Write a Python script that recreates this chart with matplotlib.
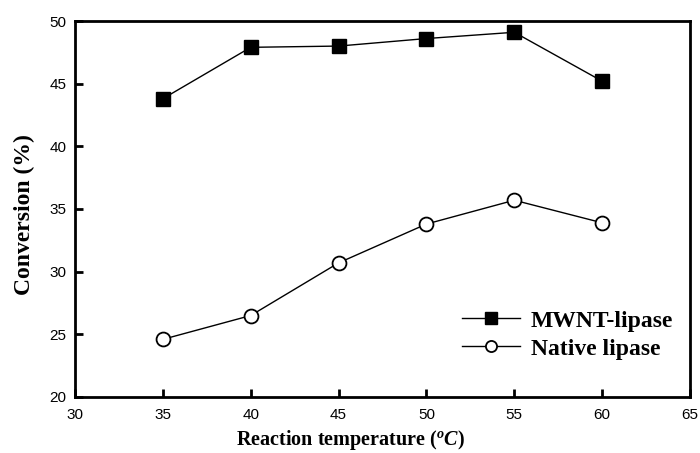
import matplotlib
matplotlib.use("Agg")
import matplotlib.pyplot as plt

temps = [35, 40, 45, 50, 55, 60]
mwnt = [43.8, 47.9, 48.0, 48.6, 49.1, 45.2]
native = [24.6, 26.5, 30.7, 33.8, 35.7, 33.9]
xticks = [30, 35, 40, 45, 50, 55, 60, 65]
yticks = [20, 25, 30, 35, 40, 45, 50]

plt.rcParams['mathtext.fontset'] = 'custom'
plt.rcParams['mathtext.it'] = 'Liberation Serif:italic:bold'
plt.rcParams['mathtext.rm'] = 'Liberation Serif:bold'

W, H = 700, 453
L, R, T, B = 75, 690, 21, 397
fig = plt.figure(figsize=(7, 4.53), dpi=100)
ax = fig.add_axes([L/W, 1-B/H, (R-L)/W, (B-T)/H])

ax.plot(temps, mwnt, color='black', lw=1.0, marker='s', ms=9.5, mfc='black', mec='black', label='MWNT-lipase')
ax.plot(temps, native, color='black', lw=1.0, marker='o', ms=10, mfc='white', mec='black', mew=1.3, label='Native lipase')

ax.set_xlim(30, 65)
ax.set_ylim(20, 50)
ax.set_xticks(xticks)
ax.set_yticks(yticks)
ax.tick_params(direction='in', length=6, width=2, labelsize=11, top=False, right=False)
ax.tick_params(axis='x', pad=8)
ax.tick_params(axis='y', pad=6)
for lab in ax.get_xticklabels() + ax.get_yticklabels():
    lab.set_family('Liberation Sans')
for s in ax.spines.values():
    s.set_linewidth(2)

ax.set_xlabel('Reaction temperature ($^{o}C$)', family='Liberation Serif', fontweight='bold', fontsize=14.5)
ax.xaxis.set_label_coords((350-L)/(R-L), -(440-B)/(B-T), transform=ax.transAxes)
ax.xaxis.label.set_va('center')
ax.set_ylabel('Conversion (%)', family='Liberation Serif', fontweight='bold', fontsize=17)
ax.yaxis.set_label_coords(-(L-24)/(R-L), (B-215)/(B-T), transform=ax.transAxes)
ax.yaxis.label.set_va('center')

leg = ax.legend(loc='upper right', bbox_to_anchor=((673-L)/(R-L), (B-310)/(B-T)), frameon=False,
                prop={'family': 'Liberation Serif', 'weight': 'bold', 'size': 17},
                handlelength=2.45, handletextpad=0.45, labelspacing=0.28,
                borderpad=0, borderaxespad=0)
for h in leg.legend_handles:
    h.set_markersize(8)

fig.savefig('out.png', dpi=100)
